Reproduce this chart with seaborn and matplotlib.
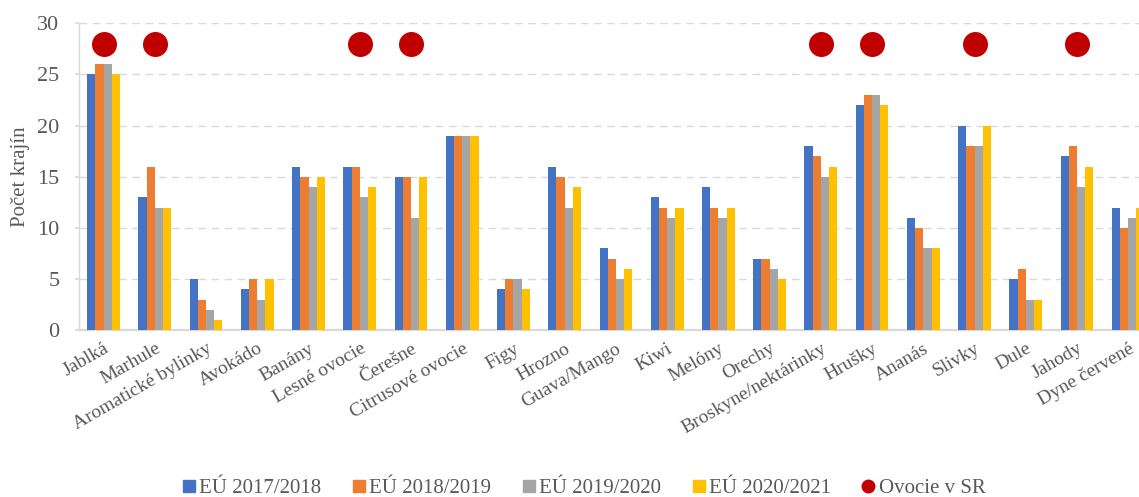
import pandas as pd
import matplotlib.pyplot as plt
from matplotlib.lines import Line2D
import seaborn as sns

# Categories and series values
ovocie = ["Jablká", "Marhule", "Aromatické bylinky", "Avokádo", "Banány",
          "Lesné ovocie", "Čerešne", "Citrusové ovocie", "Figy", "Hrozno",
          "Guava/Mango", "Kiwi", "Melóny", "Orechy", "Broskyne/nektárinky",
          "Hrušky", "Ananás", "Slivky", "Dule", "Jahody", "Dyne červené"]
eu_2017 = [25, 13, 5, 4, 16, 16, 15, 19, 4, 16, 8, 13, 14, 7, 18, 22, 11, 20, 5, 17, 12]
eu_2018 = [26, 16, 3, 5, 15, 16, 15, 19, 5, 15, 7, 12, 12, 7, 17, 23, 10, 18, 6, 18, 10]
eu_2019 = [26, 12, 2, 3, 14, 13, 11, 19, 5, 12, 5, 11, 11, 6, 15, 23, 8, 18, 3, 14, 11]
eu_2020 = [25, 12, 1, 5, 15, 14, 15, 19, 4, 14, 6, 12, 12, 5, 16, 22, 8, 20, 3, 16, 12]
obdobia = ["EÚ 2017/2018", "EÚ 2018/2019", "EÚ 2019/2020", "EÚ 2020/2021"]

# Fruit grown in Slovakia (marker series)
sr_ovocie = ["Jablká", "Marhule", "Lesné ovocie", "Čerešne",
             "Broskyne/nektárinky", "Hrušky", "Slivky", "Jahody"]
sr_hodnota = [28, 28, 28, 28, 28, 28, 28, 28]

farby = ["#4472C4", "#ED7D31", "#A5A5A5", "#FFC000"]
cervena = "#C00000"
sivy_text = "#595959"

rows = []
for obd, vals in zip(obdobia, [eu_2017, eu_2018, eu_2019, eu_2020]):
    for o, v in zip(ovocie, vals):
        rows.append({"Ovocie": o, "Obdobie": obd, "Počet": v})
df = pd.DataFrame(rows)
df_sr = pd.DataFrame({"Ovocie": sr_ovocie, "Počet": sr_hodnota})

sns.set_theme(style="white")
plt.rcParams["font.family"] = ["Liberation Serif", "DejaVu Serif"]

fig = plt.figure(figsize=(11.39, 4.97), dpi=100)
ax = fig.add_axes([79 / 1139, 0.3354, 1 - 79 / 1139, 0.6177])

sns.barplot(data=df, x="Ovocie", y="Počet", hue="Obdobie", order=ovocie,
            hue_order=obdobia, palette=farby, saturation=1, width=0.64, gap=0,
            linewidth=0, legend=False, ax=ax, zorder=3)
sns.stripplot(data=df_sr, x="Ovocie", y="Počet", order=ovocie, color=cervena,
              jitter=False, size=18, linewidth=0, ax=ax, zorder=4)

ax.set_ylim(0, 30)
ax.set_xlim(-0.48, 20.21)
ax.set_yticks(range(0, 31, 5))
ax.yaxis.grid(True, color="#d9d9d9", linestyle=(0, (5.5, 4)), linewidth=1.0, zorder=0)
ax.set_axisbelow(True)

for s in ["top", "right"]:
    ax.spines[s].set_visible(False)
ax.spines["left"].set_color("#d9d9d9")
ax.spines["left"].set_linewidth(1.0)
ax.spines["bottom"].set_color("#d9d9d9")
ax.spines["bottom"].set_linewidth(1.6)

ax.tick_params(axis="y", labelsize=16, labelcolor=sivy_text, length=3,
               color="#d9d9d9", left=True, pad=11)
ax.tick_params(axis="x", labelsize=14, labelcolor=sivy_text, length=0, pad=7)
ax.set_xticks(range(len(ovocie)))
ax.set_xticklabels(ovocie, rotation=30, ha="right", rotation_mode="anchor")

ax.set_xlabel("")
ax.set_ylabel("Počet krajín", fontsize=15, color=sivy_text, labelpad=5)

handles = [Line2D([], [], marker="s", linestyle="", color=c, markersize=9) for c in farby]
handles.append(Line2D([], [], marker="o", linestyle="", color=cervena, markersize=9))
fig.legend(handles, obdobia + ["Ovocie v SR"], loc="lower center",
           bbox_to_anchor=(0.51, -0.04), ncol=5, frameon=False, fontsize=15,
           handletextpad=-0.1, handlelength=1.2, columnspacing=1.2,
           labelcolor=sivy_text)

plt.savefig("out.png", dpi=100)
